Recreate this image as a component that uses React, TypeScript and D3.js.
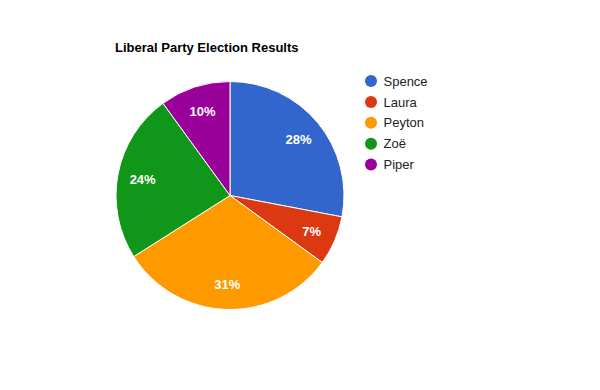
import * as d3 from "d3";
import React, { useEffect, useRef } from "react";

const candidates = ["Spence", "Laura", "Peyton", "Zoë", "Piper"];
const shares = [28, 7, 31, 24, 10];
const colors = ["#3366cc", "#dc3912", "#ff9900", "#109618", "#990099"];
const title = "Liberal Party Election Results";

export default function App() {
  const ref = useRef<SVGSVGElement>(null);
  const width = 600;
  const height = 390;

  useEffect(() => {
    const svg = d3.select(ref.current);
    svg.selectAll("*").remove();
    const font = "Arial, 'Liberation Sans', sans-serif";

    const cx = 230;
    const cy = 195.5;
    const radius = 114;

    const data = candidates.map((name, i) => ({ name, value: shares[i] }));
    const color = d3.scaleOrdinal<string>().domain(candidates).range(colors);

    svg
      .append("text")
      .attr("x", 115)
      .attr("y", 52)
      .attr("font-family", font)
      .attr("font-size", 13)
      .attr("font-weight", "bold")
      .attr("fill", "#000")
      .text(title);

    const pie = d3
      .pie<{ name: string; value: number }>()
      .sort(null)
      .value((d) => d.value);
    const arcs = pie(data);
    const arc = d3
      .arc<d3.PieArcDatum<{ name: string; value: number }>>()
      .innerRadius(0)
      .outerRadius(radius);
    const labelArc = d3
      .arc<d3.PieArcDatum<{ name: string; value: number }>>()
      .innerRadius(radius * 0.78)
      .outerRadius(radius * 0.78);

    const g = svg.append("g").attr("transform", `translate(${cx},${cy})`);
    g.selectAll("path")
      .data(arcs)
      .join("path")
      .attr("d", arc)
      .attr("fill", (d) => color(d.data.name))
      .attr("stroke", "#fff")
      .attr("stroke-width", 1);

    const total = d3.sum(shares);
    g.selectAll("text")
      .data(arcs)
      .join("text")
      .attr("transform", (d) => {
        const [x, y] = labelArc.centroid(d);
        return `translate(${x},${y})`;
      })
      .attr("text-anchor", "middle")
      .attr("dy", "0.36em")
      .attr("font-family", font)
      .attr("font-size", 13)
      .attr("font-weight", "bold")
      .attr("fill", "#fff")
      .text((d) => `${Math.round((d.data.value / total) * 100)}%`);

    const legend = svg
      .append("g")
      .selectAll("g")
      .data(candidates)
      .join("g")
      .attr("transform", (d, i) => `translate(371,${81 + i * 20.9})`);
    legend
      .append("circle")
      .attr("r", 6)
      .attr("fill", (d) => color(d));
    legend
      .append("text")
      .attr("x", 12.5)
      .attr("dy", "0.36em")
      .attr("font-family", font)
      .attr("font-size", 13)
      .attr("fill", "#222")
      .text((d) => d);
  }, []);

  return (
    <svg
      ref={ref}
      width={width}
      height={height}
      style={{ position: "absolute", left: 0, top: 0, background: "#fff" }}
    />
  );
}
